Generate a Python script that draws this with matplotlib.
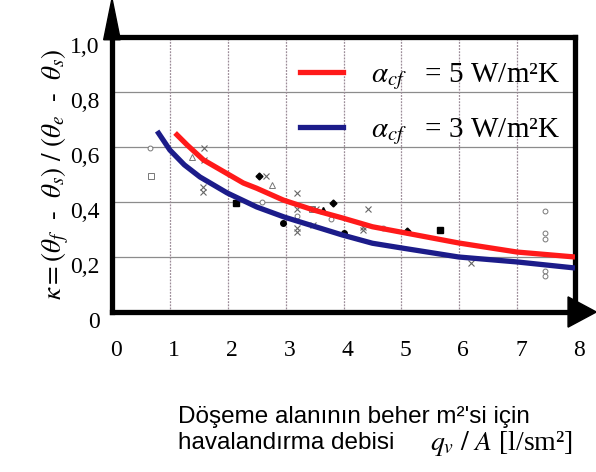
import matplotlib
matplotlib.use("Agg")
import matplotlib.pyplot as plt
import matplotlib.transforms as mtransforms
from matplotlib.patches import Polygon
from matplotlib.lines import Line2D

plt.rcParams['font.family'] = ['Liberation Serif', 'DejaVu Serif']
plt.rcParams['mathtext.fontset'] = 'stix'

# curvas de ajuste
x_red = [1.09, 1.3, 1.58, 2.27, 2.5, 2.96, 3.48, 3.98, 4.5, 4.98, 5.99, 7.0, 8.0]
y_red = [0.651, 0.607, 0.553, 0.469, 0.45, 0.407, 0.371, 0.342, 0.31, 0.291, 0.251, 0.218, 0.20]
x_blue = [0.78, 1.0, 1.25, 1.52, 1.99, 2.5, 2.98, 3.98, 4.5, 5.0, 5.99, 7.0, 8.0]
y_blue = [0.658, 0.589, 0.535, 0.491, 0.433, 0.382, 0.345, 0.280, 0.25, 0.233, 0.20, 0.182, 0.16]

# pontos medidos
circ_x = [0.66, 2.6, 3.2, 3.79, 4.69, 7.49, 7.49, 7.49, 7.49, 7.49]
circ_y = [0.596, 0.40, 0.35, 0.338, 0.306, 0.367, 0.287, 0.265, 0.149, 0.131]
sq_x = [0.67, 3.46]
sq_y = [0.495, 0.375]
tri_x = [1.38, 2.77]
tri_y = [0.564, 0.462]
cross_x = [1.59, 1.59, 1.58, 1.58, 2.66, 3.2, 3.2, 3.2, 3.2, 3.52, 3.48, 4.43, 4.33, 4.33, 6.21]
cross_y = [0.596, 0.553, 0.455, 0.436, 0.495, 0.433, 0.375, 0.305, 0.29, 0.373, 0.316, 0.375, 0.309, 0.298, 0.178]
dia_x = [2.54, 3.81, 5.1]
dia_y = [0.495, 0.396, 0.295]
fsq_x = [2.15, 5.67]
fsq_y = [0.396, 0.298]
fcirc_x = [2.96, 4.0]
fcirc_y = [0.325, 0.287]
ftri_x = [3.65]
ftri_y = [0.371]

xticks = [0, 1, 2, 3, 4, 5, 6, 7, 8]
yticks = [0, 0.2, 0.4, 0.6, 0.8, 1.0]
ytick_labels = ['0', '0,2', '0,4', '0,6', '0,8', '1,0']
labels = [r'$\alpha_{cf}$   = 5 W/m²K', r'$\alpha_{cf}$   = 3 W/m²K']

fig = plt.figure(figsize=(5.96, 4.72), dpi=100)
ax = fig.add_axes([112/596, 1-312/472, 463/596, 275/472])

# grade
for v in yticks[1:-1]:
    ax.axhline(v, color='#8c8c8c', lw=0.9, zorder=1)
for v in xticks[1:-1]:
    ax.axvline(v, color='#9c8c98', lw=0.9, ls=(0, (1.5, 1)), zorder=1)

ax.plot(circ_x, circ_y, 'o', ms=3.5, mfc='white', mec='#777777', mew=0.7, zorder=3)
ax.plot(sq_x, sq_y, 's', ms=4, mfc='white', mec='#777777', mew=0.7, zorder=3)
ax.plot(tri_x, tri_y, '^', ms=4.5, mfc='white', mec='#777777', mew=0.7, zorder=3)
ax.plot(cross_x, cross_y, 'x', ms=4.5, color='#666666', mew=0.8, zorder=3)
ax.plot(dia_x, dia_y, 'D', ms=3.5, color='black', zorder=3)
ax.plot(fsq_x, fsq_y, 's', ms=4.5, color='black', zorder=3)
ax.plot(fcirc_x, fcirc_y, 'o', ms=4, color='black', zorder=3)
ax.plot(ftri_x, ftri_y, '^', ms=4.5, color='black', zorder=3)

ax.plot(x_blue, y_blue, color='#1c1c8a', lw=3.8, solid_capstyle='butt', zorder=4)
ax.plot(x_red, y_red, color='#ff1a1a', lw=3.8, solid_capstyle='butt', zorder=5)

ax.set_xlim(0, 8)
ax.set_ylim(0, 1.0)
ax.set_xticks(xticks)
ax.set_yticks(yticks)
ax.set_yticklabels(ytick_labels)
ax.tick_params(length=0, labelsize=17)
ax.tick_params(axis='x', pad=20)
ax.tick_params(axis='y', pad=9)

for lab in ax.get_yticklabels():
    lab.set_transform(lab.get_transform() + mtransforms.ScaledTranslation(0, -0.08, fig.dpi_scale_trans))
for lab in ax.get_xticklabels():
    lab.set_transform(lab.get_transform() + mtransforms.ScaledTranslation(0.04, 0, fig.dpi_scale_trans))

for s in ax.spines.values():
    s.set_linewidth(3.8)
    s.set_color('black')

# setas dos eixos
ax.add_patch(Polygon([[-0.018, 0.99], [0.018, 0.99], [0.0, 1.14]], closed=True,
                     transform=ax.transAxes, color='black', clip_on=False, zorder=6))
ax.add_patch(Polygon([[0.985, 0.055], [0.985, -0.055], [1.046, 0.0]], closed=True,
                     transform=ax.transAxes, color='black', clip_on=False, zorder=6))

handles = [Line2D([], [], color='#ff1a1a', lw=3.8), Line2D([], [], color='#1c1c8a', lw=3.8)]
leg = ax.legend(handles, labels, loc='upper left', bbox_to_anchor=(0.405, 0.91),
                frameon=False, fontsize=21, handlelength=1.5, handletextpad=0.95,
                labelspacing=0.83, borderpad=0, borderaxespad=0)

ax.set_ylabel(r'$\kappa = (\theta_f\ \ \text{-}\ \ \theta_s)\ /\ (\theta_e\ \ \text{-}\ \ \theta_s)$',
              fontsize=19.5, labelpad=-1)

fig.text(178/596, 1-417/472, "Döşeme alanının beher m²'si için", family='Liberation Sans',
         fontsize=17.5, va='center', ha='left')
fig.text(178/596, 1-443/472, "havalandırma debisi", family='Liberation Sans',
         fontsize=17.5, va='center', ha='left')
fig.text(430/596, 1-443/472, r'$q_v\ /\ A\ $[l/sm²]', fontsize=20, va='center', ha='left')

fig.savefig("out.png", dpi=100)
